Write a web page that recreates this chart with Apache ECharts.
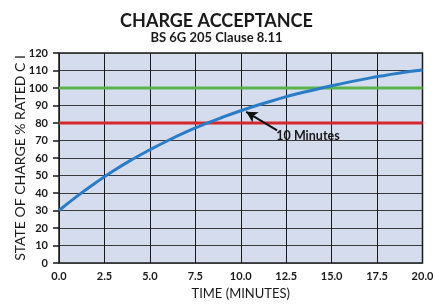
<!DOCTYPE html>
<html>
<head>
<meta charset="utf-8">
<script src="https://cdn.jsdelivr.net/npm/echarts@6/dist/echarts.min.js"></script>
<style>
  html, body { margin: 0; padding: 0; background: #fff; }
  #chart { width: 433px; height: 304px; }
</style>
</head>
<body>
<div id="chart"></div>
<script>
// minutes / state of charge
const minutes = [0, 1, 2, 3, 4, 5, 6, 7, 8, 9, 10, 11, 12, 13, 14, 15, 16, 17, 18, 19, 20]
const charge = [30, 38.2, 45.7, 52.7, 59, 64.7, 70, 74.9, 79.3, 83.3, 87, 90.4, 93.5, 96.4, 98.9, 101.3, 103.5, 105.5, 107.3, 109, 110.3]
const greenLevel = 100
const redLevel = 80
const arrowFrom = [12, 75.8]
const arrowTo = [10.3, 86.4]
const noteAt = [13.7, 72.6]
const noteText = '10 Minutes'

const chart = echarts.init(document.getElementById('chart'))
const font = 'Lato, "Open Sans", sans-serif'

chart.setOption({
  animation: false,
  title: {
    text: 'CHARGE ACCEPTANCE',
    subtext: 'BS 6G 205 Clause 8.11',
    left: 'center',
    top: 7,
    itemGap: 1,
    textStyle: { fontFamily: font, fontSize: 18, fontWeight: 'bold', color: '#1a1a1a' },
    subtextStyle: { fontFamily: font, fontSize: 13, fontWeight: 'bold', color: '#1a1a1a' },
  },
  grid: {
    left: 59,
    right: 10.5,
    top: 53,
    bottom: 41,
    outerBoundsMode: 'none',
    containLabel: false,
    show: true,
    backgroundColor: '#d4dcee',
    borderColor: '#1a1a1a',
    borderWidth: 1.5,
  },
  xAxis: {
    type: 'value',
    min: 0,
    max: 20,
    interval: 2.5,
    name: 'TIME (MINUTES)',
    nameLocation: 'middle',
    nameGap: 24,
    nameMoveOverlap: false,
    nameTextStyle: { fontFamily: font, fontSize: 13, color: '#1a1a1a' },
    axisLine: { show: false },
    axisTick: { show: false },
    axisLabel: {
      fontFamily: font, fontSize: 11, fontWeight: 'bold', color: '#1a1a1a', margin: 8,
      formatter: (v) => v.toFixed(1),
    },
    splitLine: { lineStyle: { color: '#1a1a1a', width: 1 } },
  },
  yAxis: {
    type: 'value',
    min: 0,
    max: 120,
    interval: 10,
    name: 'STATE OF CHARGE % RATED C I',
    nameLocation: 'middle',
    nameGap: 32,
    nameMoveOverlap: false,
    nameTextStyle: { fontFamily: font, fontSize: 14, color: '#1a1a1a' },
    axisLine: { show: false },
    axisTick: { show: true, length: 6, lineStyle: { color: '#1a1a1a', width: 1.5 } },
    axisLabel: { fontFamily: font, fontSize: 11, fontWeight: 'bold', color: '#1a1a1a', margin: 11 },
    splitLine: { lineStyle: { color: '#3a3a3a', width: 1 } },
  },
  series: [
    {
      type: 'line',
      data: minutes.map((m) => [m, greenLevel]),
      symbol: 'none',
      lineStyle: { color: '#5cb34a', width: 3 },
      z: 3,
    },
    {
      type: 'line',
      data: minutes.map((m) => [m, redLevel]),
      symbol: 'none',
      lineStyle: { color: '#d42a2f', width: 3 },
      z: 3,
    },
    {
      type: 'line',
      data: minutes.map((m, i) => [m, charge[i]]),
      symbol: 'none',
      smooth: true,
      lineStyle: { color: '#2b7cc6', width: 3 },
      z: 4,
      markLine: {
        silent: true,
        symbol: ['none', 'arrow'],
        symbolSize: [9, 11],
        lineStyle: { color: '#111', width: 2, type: 'solid' },
        label: { show: false },
        data: [[{ coord: arrowFrom }, { coord: arrowTo }]],
      },
      markPoint: {
        silent: true,
        symbol: 'circle',
        symbolSize: 0,
        label: {
          show: true,
          formatter: noteText,
          fontFamily: font,
          fontSize: 12.5,
          fontWeight: 'bold',
          color: '#1a1a1a',
        },
        data: [{ coord: noteAt }],
      },
    },
  ],
})
</script>
</body>
</html>
